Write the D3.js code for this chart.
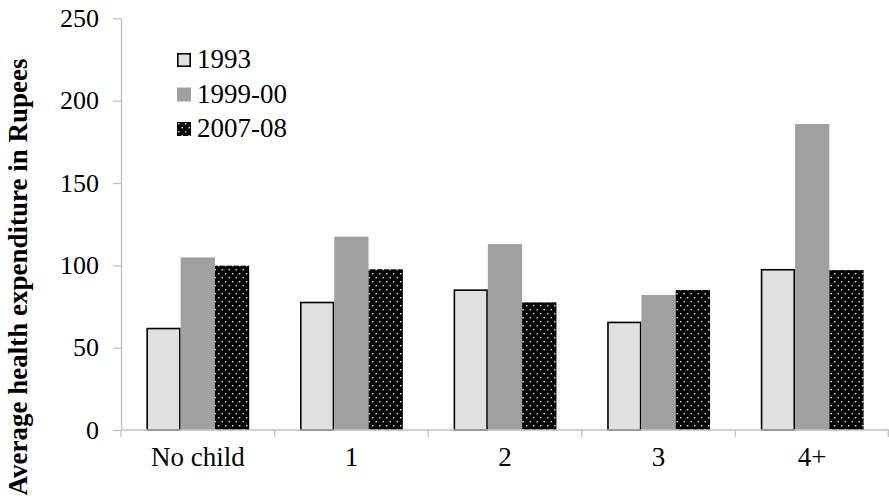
<!DOCTYPE html>
<html>
<head>
<meta charset="utf-8">
<script src="https://cdn.jsdelivr.net/npm/d3@7/dist/d3.min.js"></script>
<style>
  html, body { margin: 0; padding: 0; background: #fff; }
  svg { display: block; }
  text { font-family: "Liberation Serif", "Times New Roman", serif; fill: #000; }
</style>
</head>
<body>
<svg id="chart" width="889" height="500"></svg>
<script>
// Average health expenditure by number of children, three survey rounds
const categories = ["No child", "1", "2", "3", "4+"];
const seriesNames = ["1993", "1999-00", "2007-08"];
const values1993 = [62.1, 77.9, 85.4, 65.8, 97.8];
const values1999 = [104.8, 117.4, 112.9, 82.0, 185.8];
const values2007 = [99.8, 97.6, 77.5, 85.0, 97.1];
const yTicks = [0, 50, 100, 150, 200, 250];
const yTitle = "Average health expenditure in Rupees";

const seriesValues = [values1993, values1999, values2007];

const svg = d3.select("#chart");
const axisColor = "#bfbfbf";
const serif = "Liberation Serif, Times New Roman, serif";

// Pattern of white dots on black for the third series
const defs = svg.append("defs");
const pat = defs.append("pattern")
  .attr("id", "dots")
  .attr("patternUnits", "userSpaceOnUse")
  .attr("width", 7).attr("height", 8);
pat.append("rect").attr("width", 7).attr("height", 8).attr("fill", "#000");
pat.append("rect").attr("x", 1).attr("y", 1).attr("width", 1.4).attr("height", 1.4).attr("fill", "#e8e8e8");
pat.append("rect").attr("x", 4.5).attr("y", 5).attr("width", 1.4).attr("height", 1.4).attr("fill", "#e8e8e8");

const styles = [
  { fill: "#e0e0e0", stroke: "#000", sw: 1.6 },
  { fill: "#a0a0a0", stroke: "none", sw: 0 },
  { fill: "url(#dots)", stroke: "none", sw: 0 }
];

const x0 = d3.scaleBand().domain(categories).range([121, 889]).paddingInner(0).paddingOuter(0);
const x1 = d3.scaleBand().domain(seriesNames).range([0, x0.bandwidth()]).paddingInner(0).paddingOuter(0.74);
const y = d3.scaleLinear().domain([0, 250]).range([430, 18.3]);

// Bars
seriesNames.forEach((s, si) => {
  const st = styles[si];
  svg.append("g").selectAll("rect")
    .data(categories.map((c, i) => ({ c, v: seriesValues[si][i] })))
    .join("rect")
    .attr("x", d => x0(d.c) + x1(s) + (st.sw ? st.sw / 2 : 0))
    .attr("y", d => y(d.v) + (st.sw ? st.sw / 2 : 0))
    .attr("width", x1.bandwidth() - (st.sw ? st.sw : 0))
    .attr("height", d => y(0) - y(d.v) - (st.sw ? st.sw / 2 : 0))
    .attr("fill", st.fill)
    .attr("stroke", st.stroke)
    .attr("stroke-width", st.sw);
});

// Y axis
const yAxis = svg.append("g")
  .attr("transform", "translate(121,0)")
  .call(d3.axisLeft(y).tickValues(yTicks).tickSize(8).tickPadding(14).tickSizeOuter(0));
yAxis.select(".domain").attr("stroke", axisColor).attr("stroke-width", 1.3);
yAxis.selectAll(".tick line").attr("stroke", axisColor).attr("stroke-width", 1.3);
yAxis.selectAll(".tick text")
  .attr("font-family", serif)
  .attr("font-size", 26)
  .attr("fill", "#000");

// X axis: boundaries between categories
const xAxis = svg.append("g");
xAxis.append("line")
  .attr("x1", x0.range()[0]).attr("x2", x0.range()[1])
  .attr("y1", y(0)).attr("y2", y(0))
  .attr("stroke", axisColor).attr("stroke-width", 1.5);
const bounds = categories.map(c => x0(c)).concat([x0.range()[1] - 0.7]);
xAxis.selectAll("line.tk").data(bounds).join("line")
  .attr("class", "tk")
  .attr("x1", d => d).attr("x2", d => d)
  .attr("y1", y(0)).attr("y2", y(0) + 7)
  .attr("stroke", axisColor).attr("stroke-width", 1.3);
xAxis.selectAll("text").data(categories).join("text")
  .attr("x", d => x0(d) + x0.bandwidth() / 2)
  .attr("y", 466)
  .attr("text-anchor", "middle")
  .attr("font-size", 27)
  .text(d => d);

// Y title
svg.append("text")
  .attr("transform", "translate(27,277) rotate(-90)")
  .attr("text-anchor", "middle")
  .attr("font-size", 27)
  .attr("font-weight", "bold")
  .text(yTitle);

// Legend
const legend = svg.append("g").attr("transform", "translate(177,53)");
seriesNames.forEach((s, i) => {
  const g = legend.append("g").attr("transform", `translate(0,${i * 34.5})`);
  const st = styles[i];
  g.append("rect")
    .attr("x", st.sw / 2).attr("y", st.sw / 2)
    .attr("width", 14 - st.sw).attr("height", 14 - st.sw)
    .attr("fill", st.fill)
    .attr("stroke", st.stroke)
    .attr("stroke-width", st.sw);
  g.append("text")
    .attr("x", 20).attr("y", 15)
    .attr("font-size", 27)
    .text(s);
});
</script>
</body>
</html>
